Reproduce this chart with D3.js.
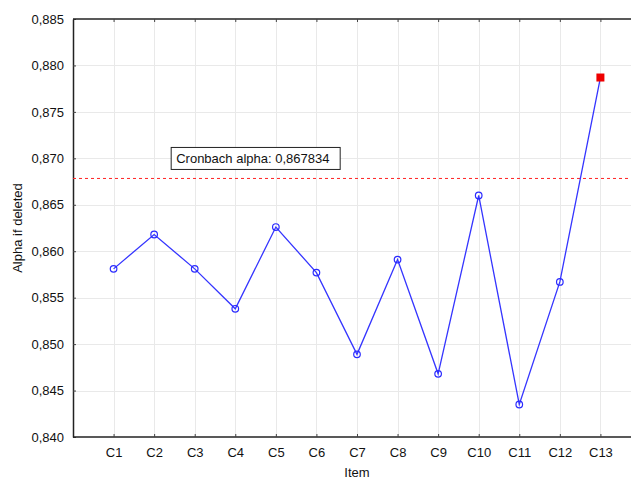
<!DOCTYPE html>
<html>
<head>
<meta charset="utf-8">
<script src="https://cdn.jsdelivr.net/npm/d3@7"></script>
<style>
  body { margin: 0; background: #fff; }
  svg { display: block; font-family: "Liberation Sans", Arial, sans-serif; }
</style>
</head>
<body>
<svg id="chart" width="631" height="479"></svg>
<script>
// data
let items = ["C1", "C2", "C3", "C4", "C5", "C6", "C7", "C8", "C9", "C10", "C11", "C12", "C13"];
let alphaIfDeleted = [0.8581, 0.8618, 0.8581, 0.8538, 0.8626, 0.8577, 0.8489, 0.8591, 0.8468, 0.8660, 0.8435, 0.8567, 0.8787];
let cronbachAlpha = 0.867834;
let yTicks = [0.840, 0.845, 0.850, 0.855, 0.860, 0.865, 0.870, 0.875, 0.880, 0.885];

let svg = d3.select("#chart");
let plotLeft = 73, plotTop = 19, plotBottom = 437;
let step = 40.57;

let locale = d3.formatLocale({ decimal: ",", thousands: ".", grouping: [3], currency: ["", ""] });
let fmt3 = locale.format(".3f");
let fmt6 = locale.format(".6f");

let x = d3.scaleLinear().domain([0, 14]).range([plotLeft, plotLeft + 14 * step]);
let y = d3.scaleLinear().domain([0.840, 0.885]).range([plotBottom, plotTop]);

// grid
let grid = svg.append("g").attr("stroke", "#e9e9e9").attr("stroke-width", 1);
grid.selectAll(".gx").data(items).enter().append("line")
    .attr("x1", (d, i) => Math.round(x(i + 1)) + 0.5)
    .attr("x2", (d, i) => Math.round(x(i + 1)) + 0.5)
    .attr("y1", plotTop).attr("y2", plotBottom);
grid.selectAll(".gy").data(yTicks.slice(1, -1)).enter().append("line")
    .attr("x1", plotLeft).attr("x2", 700)
    .attr("y1", d => Math.round(y(d)) + 0.5)
    .attr("y2", d => Math.round(y(d)) + 0.5);

// axes (ticks pointing inwards)
let yAxis = d3.axisLeft(y).tickValues(yTicks).tickFormat(fmt3).tickSizeInner(-3).tickSizeOuter(0).tickPadding(9);
let gy = svg.append("g").attr("transform", `translate(${plotLeft},0)`).call(yAxis);

let xAxis = d3.axisBottom(x).tickValues(d3.range(1, 14)).tickFormat(i => items[i - 1]).tickSizeInner(-3).tickSizeOuter(0).tickPadding(11);
let gx = svg.append("g").attr("transform", `translate(0,${plotBottom})`).call(xAxis);

let xTop = d3.axisTop(x).tickValues(d3.range(1, 14)).tickFormat("").tickSizeInner(-3).tickSizeOuter(0);
let gt = svg.append("g").attr("transform", `translate(0,${plotTop})`).call(xTop);

[gy, gx, gt].forEach(g => {
  g.select(".domain").attr("stroke", "#222").attr("stroke-width", 1.5);
  g.selectAll(".tick line").attr("stroke", "#444");
  g.selectAll("text").attr("font-size", 13).attr("fill", "#111").attr("font-family", "Liberation Sans, Arial, sans-serif");
});
gx.select(".domain").attr("d", `M${plotLeft},0H700`);
gt.select(".domain").attr("d", `M${plotLeft},0H700`);

// axis titles
svg.append("text").attr("x", x(7)).attr("y", 477).attr("text-anchor", "middle")
    .attr("font-size", 13).attr("fill", "#111").text("Item");
svg.append("text").attr("transform", `translate(22,${(plotTop + plotBottom) / 2}) rotate(-90)`)
    .attr("text-anchor", "middle").attr("font-size", 13).attr("fill", "#111").text("Alpha if deleted");

// reference line
svg.append("line")
    .attr("x1", plotLeft).attr("x2", 700)
    .attr("y1", y(cronbachAlpha)).attr("y2", y(cronbachAlpha))
    .attr("stroke", "#ff2020").attr("stroke-width", 1).attr("stroke-dasharray", "3,3");

let label = svg.append("g").attr("transform", `translate(${x(2.42)},${y(cronbachAlpha) - 31})`);
label.append("rect").attr("width", 169).attr("height", 22)
    .attr("fill", "#fff").attr("stroke", "#222").attr("stroke-width", 1);
label.append("text").attr("x", 5).attr("y", 16).attr("font-size", 13).attr("fill", "#111")
    .text("Cronbach alpha: " + fmt6(cronbachAlpha));

// series line
let line = d3.line().x((d, i) => x(i + 1)).y(d => y(d));
svg.append("path").datum(alphaIfDeleted)
    .attr("d", line).attr("fill", "none").attr("stroke", "#3535ff").attr("stroke-width", 1.3);

let last = alphaIfDeleted.length - 1;
svg.selectAll(".pt").data(alphaIfDeleted.slice(0, last)).enter().append("circle")
    .attr("cx", (d, i) => x(i + 1)).attr("cy", d => y(d)).attr("r", 3.3)
    .attr("fill", "none").attr("stroke", "#2a2aff").attr("stroke-width", 1.2);

svg.append("rect")
    .attr("x", x(last + 1) - 4).attr("y", y(alphaIfDeleted[last]) - 4)
    .attr("width", 8).attr("height", 8).attr("fill", "#ee0000");
</script>
</body>
</html>
